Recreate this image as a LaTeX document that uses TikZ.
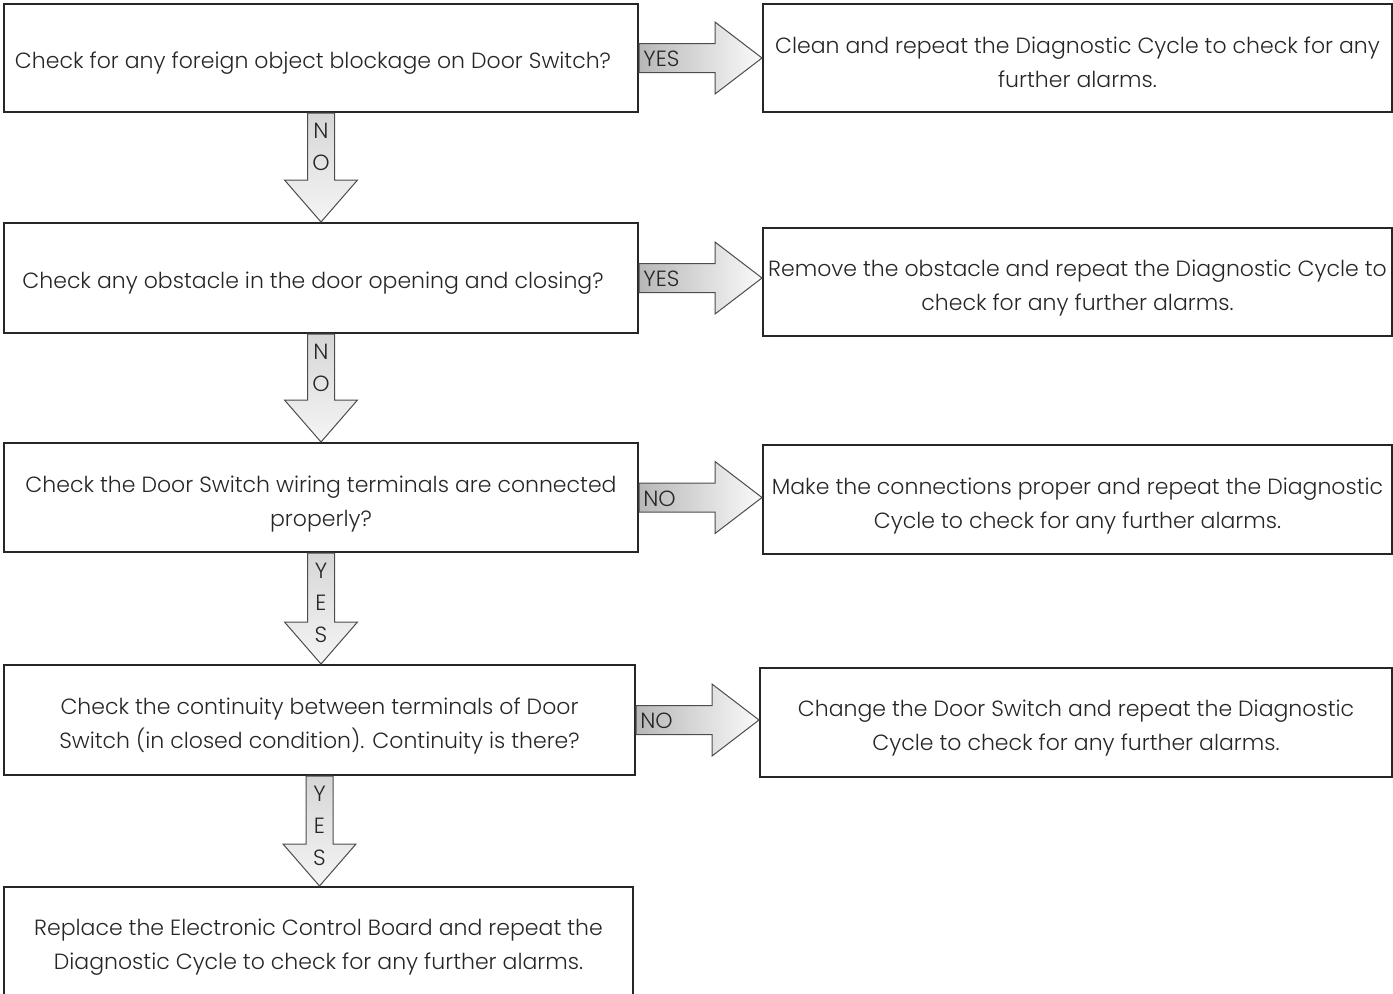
\documentclass[tikz,border=0pt]{standalone}
\usepackage{fontspec}
\setmainfont{Poppins}[UprightFont=* Light, Ligatures=NoCommon]
\usetikzlibrary{positioning,calc}

\tikzset{
  box/.style={draw=black!85, line width=1pt, inner sep=0pt, align=center,
    text=black!85, font=\fontsize{11}{17}\selectfont},
  % strut that pushes the text a little lower in its box
  lift/.style={execute at begin node={\rule{0pt}{#1}}},
  pull/.style={execute at begin node={\kern-8pt\rule{0pt}{#1}}},
  flowarrow/.style={draw=black!70, line width=0.5pt, line join=miter},
  harrow/.style={flowarrow, left color=black!28, right color=black!2},
  varrow/.style={flowarrow, top color=black!16, bottom color=black!4},
  arrowlbl/.style={inner sep=0pt, text=black!85, font=\fontsize{11}{17}\selectfont},
}

% block arrow to the right, from box #1 to box #2
\newcommand\rightblock[3]{%
  \draw[harrow] ($(#1.east)+(0,-14.5)$) -- ($(#1.east -| #2.west)+(-47,-14.5)$)
    -- ($(#1.east -| #2.west)+(-47,-36)$) -- (#1.east -| #2.west)
    -- ($(#1.east -| #2.west)+(-47,36)$) -- ($(#1.east -| #2.west)+(-47,14.5)$)
    -- ($(#1.east)+(0,14.5)$) -- cycle;
  \node[arrowlbl, anchor=west] (#1-lbl) at ($(#1.east)+(4,1)$) {#3};
}
% block arrow down, letters stacked in the shaft
\newcommand\downblock[3]{%
  \draw[varrow] ($(#1.south)+(-13.5,0)$) -- ($(#1.south |- #2.north)+(-13.5,-42)$)
    -- ($(#1.south |- #2.north)+(-36.5,-42)$) -- (#1.south |- #2.north)
    -- ($(#1.south |- #2.north)+(36.5,-42)$) -- ($(#1.south |- #2.north)+(13.5,-42)$)
    -- ($(#1.south)+(13.5,0)$) -- cycle;
  \foreach \ch [count=\i] in {#3}
    \node[arrowlbl] (#1-lbl-\i) at ($(#1.south)+(0,-14+32*\i)$) {\ch};
}

\begin{document}
\begin{tikzpicture}[x=0.5pt,y=-0.5pt]
  \useasboundingbox (0,0) rectangle (1393,993);
  % questions, left column
  \node[box, pull=13pt, minimum width=317pt, minimum height=54pt] (q1) at (321,58)
    {Check for any foreign object blockage on Door Switch?};
  \node[box, pull=13pt, minimum width=317pt, minimum height=55pt] (q2) at (321,278)
    {Check any obstacle in the door opening and closing?};
  \node[box, lift=32pt, minimum width=317pt, minimum height=54.5pt] (q3) at (321,497.5)
    {Check the Door Switch wiring terminals are connected\\ properly?};
  \node[box, lift=31pt, minimum width=315.5pt, minimum height=55pt] (q4) at (319.5,720)
    {Check the continuity between terminals of Door\\ Switch (in closed condition). Continuity is there?};
  \node[box, lift=28.5pt, minimum width=314.5pt, minimum height=56.5pt] (q5) at (318.5,943.5)
    {Replace the Electronic Control Board and repeat the\\ Diagnostic Cycle to check for any further alarms.};
  % actions, right column
  \node[box, lift=29.5pt, minimum width=314.5pt, minimum height=54pt] (a1) at (1077.5,58)
    {Clean and repeat the Diagnostic Cycle to check for any\\ further alarms.};
  \node[box, lift=31pt, minimum width=314.5pt, minimum height=54pt] (a2) at (1077.5,282)
    {Remove the obstacle and repeat the Diagnostic Cycle to\\ check for any further alarms.};
  \node[box, lift=32pt, minimum width=314.5pt, minimum height=54.5pt] (a3) at (1077.5,499.5)
    {Make the connections proper and repeat the Diagnostic\\ Cycle to check for any further alarms.};
  \node[box, lift=31pt, minimum width=316pt, minimum height=54.5pt] (a4) at (1076,722.5)
    {Change the Door Switch and repeat the Diagnostic\\ Cycle to check for any further alarms.};
  % answers
  \rightblock{q1}{a1}{YES}
  \rightblock{q2}{a2}{YES}
  \rightblock{q3}{a3}{NO}
  \rightblock{q4}{a4}{NO}
  \downblock{q1}{q2}{N,O}
  \downblock{q2}{q3}{N,O}
  \downblock{q3}{q4}{Y,E,S}
  \downblock{q4}{q5}{Y,E,S}
\end{tikzpicture}
\end{document}
